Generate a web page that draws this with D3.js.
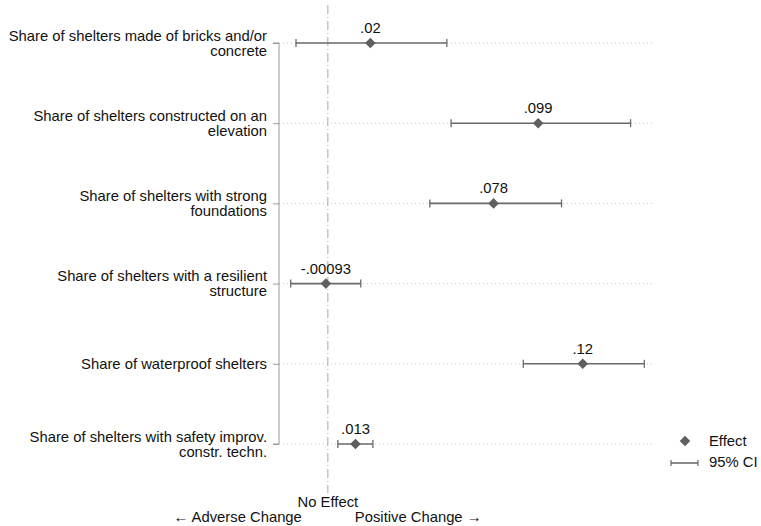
<!DOCTYPE html>
<html>
<head>
<meta charset="utf-8">
<script src="https://cdn.jsdelivr.net/npm/d3@7"></script>
<style>
  html, body { margin: 0; padding: 0; background: #fff; }
  svg { display: block; font-family: "Liberation Sans", Arial, Helvetica, sans-serif; }
</style>
</head>
<body>
<svg id="chart" width="761" height="526"></svg>
<script>
// Outcomes (line breaks mark where each label wraps)
const categories = [
  "Share of shelters made of bricks and/or\nconcrete",
  "Share of shelters constructed on an\nelevation",
  "Share of shelters with strong\nfoundations",
  "Share of shelters with a resilient\nstructure",
  "Share of waterproof shelters",
  "Share of shelters with safety improv.\nconstr. techn."
];
// Point estimates and 95% confidence bounds
const effects  = [0.02, 0.099, 0.078, -0.00093, 0.12, 0.013];
const ciLow    = [-0.015, 0.058, 0.048, -0.0175, 0.092, 0.0047];
const ciHigh   = [0.056, 0.1425, 0.110, 0.0155, 0.149, 0.0212];
const effectLabels = [".02", ".099", ".078", "-.00093", ".12", ".013"];
const legendItems = ["Effect", "95% CI"];

const svg = d3.select("#chart");
const markColor = "#5f5f5f";
const ciColor = "#6a6a6a";
const fs = 14.8;

const x = d3.scaleLinear().domain([-0.023, 0.154]).range([279, 655]);
const y = d3.scalePoint().domain(categories).range([43, 444]);

const rows = categories.map((c, i) => ({
  cat: c, est: effects[i], lo: ciLow[i], hi: ciHigh[i], label: effectLabels[i]
}));

// Dotted guide lines across the plot for each outcome
svg.append("g").selectAll("line").data(categories).join("line")
  .attr("x1", x.range()[0]).attr("x2", x.range()[1])
  .attr("y1", d => y(d)).attr("y2", d => y(d))
  .attr("stroke", "#c4c4c4").attr("stroke-width", 1)
  .attr("stroke-dasharray", "1,3");

// Vertical reference line at zero
svg.append("line")
  .attr("x1", x(0)).attr("x2", x(0))
  .attr("y1", 5).attr("y2", 493)
  .attr("stroke", "#a8a8a8").attr("stroke-width", 1)
  .attr("stroke-dasharray", "9,3,1,3");

// Y axis with left ticks
const yAxis = d3.axisLeft(y).tickSize(6).tickFormat("");
const yg = svg.append("g").attr("transform", `translate(${x.range()[0]},0)`).call(yAxis);
yg.select(".domain").attr("stroke", "#9a9a9a").attr("d", `M-6,${y.range()[0]}H0V${y.range()[1]}H-6`);
yg.selectAll(".tick line").attr("stroke", "#9a9a9a");

// Category labels, right-aligned next to the axis
const lineH = 15;
yg.selectAll(".tick").each(function(d) {
  const lines = d.split("\n");
  const t = d3.select(this).append("text")
    .attr("fill", "#111").attr("font-size", fs).attr("text-anchor", "end")
    .attr("x", -12);
  const y0 = -((lines.length - 1) * lineH) / 2 + 4.5;
  lines.forEach((ln, k) => {
    t.append("tspan").attr("x", -12).attr("y", y0 + k * lineH).text(ln);
  });
});

// Confidence intervals with end caps
const ci = svg.append("g");
ci.selectAll("line.ci").data(rows).join("line").attr("class", "ci")
  .attr("x1", d => x(d.lo)).attr("x2", d => x(d.hi))
  .attr("y1", d => y(d.cat)).attr("y2", d => y(d.cat))
  .attr("stroke", ciColor).attr("stroke-width", 1.6);
["lo", "hi"].forEach(k => {
  ci.selectAll("line.cap-" + k).data(rows).join("line").attr("class", "cap-" + k)
    .attr("x1", d => x(d[k])).attr("x2", d => x(d[k]))
    .attr("y1", d => y(d.cat) - 4).attr("y2", d => y(d.cat) + 4)
    .attr("stroke", ciColor).attr("stroke-width", 1.3);
});

// Point estimates (diamonds)
const diamond = d3.symbol().type(d3.symbolSquare).size(56);
svg.append("g").selectAll("path").data(rows).join("path")
  .attr("d", diamond)
  .attr("transform", d => `translate(${x(d.est)},${y(d.cat)}) rotate(45)`)
  .attr("fill", markColor);

// Value labels above each estimate
svg.append("g").selectAll("text").data(rows).join("text")
  .attr("x", d => x(d.est)).attr("y", d => y(d.cat) - 10)
  .attr("text-anchor", "middle").attr("font-size", fs).attr("fill", "#111")
  .text(d => d.label);

// Bottom annotations
svg.append("text").attr("x", x(0)).attr("y", 507).attr("text-anchor", "middle")
  .attr("font-size", fs).attr("fill", "#111").text("No Effect");
svg.append("text").attr("x", x(0) - 26).attr("y", 522).attr("text-anchor", "end")
  .attr("font-size", fs).attr("fill", "#111").text("\u2190 Adverse Change");
svg.append("text").attr("x", x(0) + 27).attr("y", 522).attr("text-anchor", "start")
  .attr("font-size", fs).attr("fill", "#111").text("Positive Change \u2192");

// Legend
const lg = svg.append("g");
lg.append("path").attr("d", diamond).attr("transform", "translate(685,441) rotate(45)").attr("fill", markColor);
lg.append("line").attr("x1", 671).attr("x2", 698).attr("y1", 463).attr("y2", 463)
  .attr("stroke", ciColor).attr("stroke-width", 1.6);
[671, 698].forEach(cx => lg.append("line").attr("x1", cx).attr("x2", cx)
  .attr("y1", 460).attr("y2", 466).attr("stroke", ciColor).attr("stroke-width", 1.2));
lg.selectAll("text").data(legendItems).join("text")
  .attr("x", 709).attr("y", (d, i) => 446 + i * 21)
  .attr("font-size", fs).attr("fill", "#111").text(d => d);
</script>
</body>
</html>
